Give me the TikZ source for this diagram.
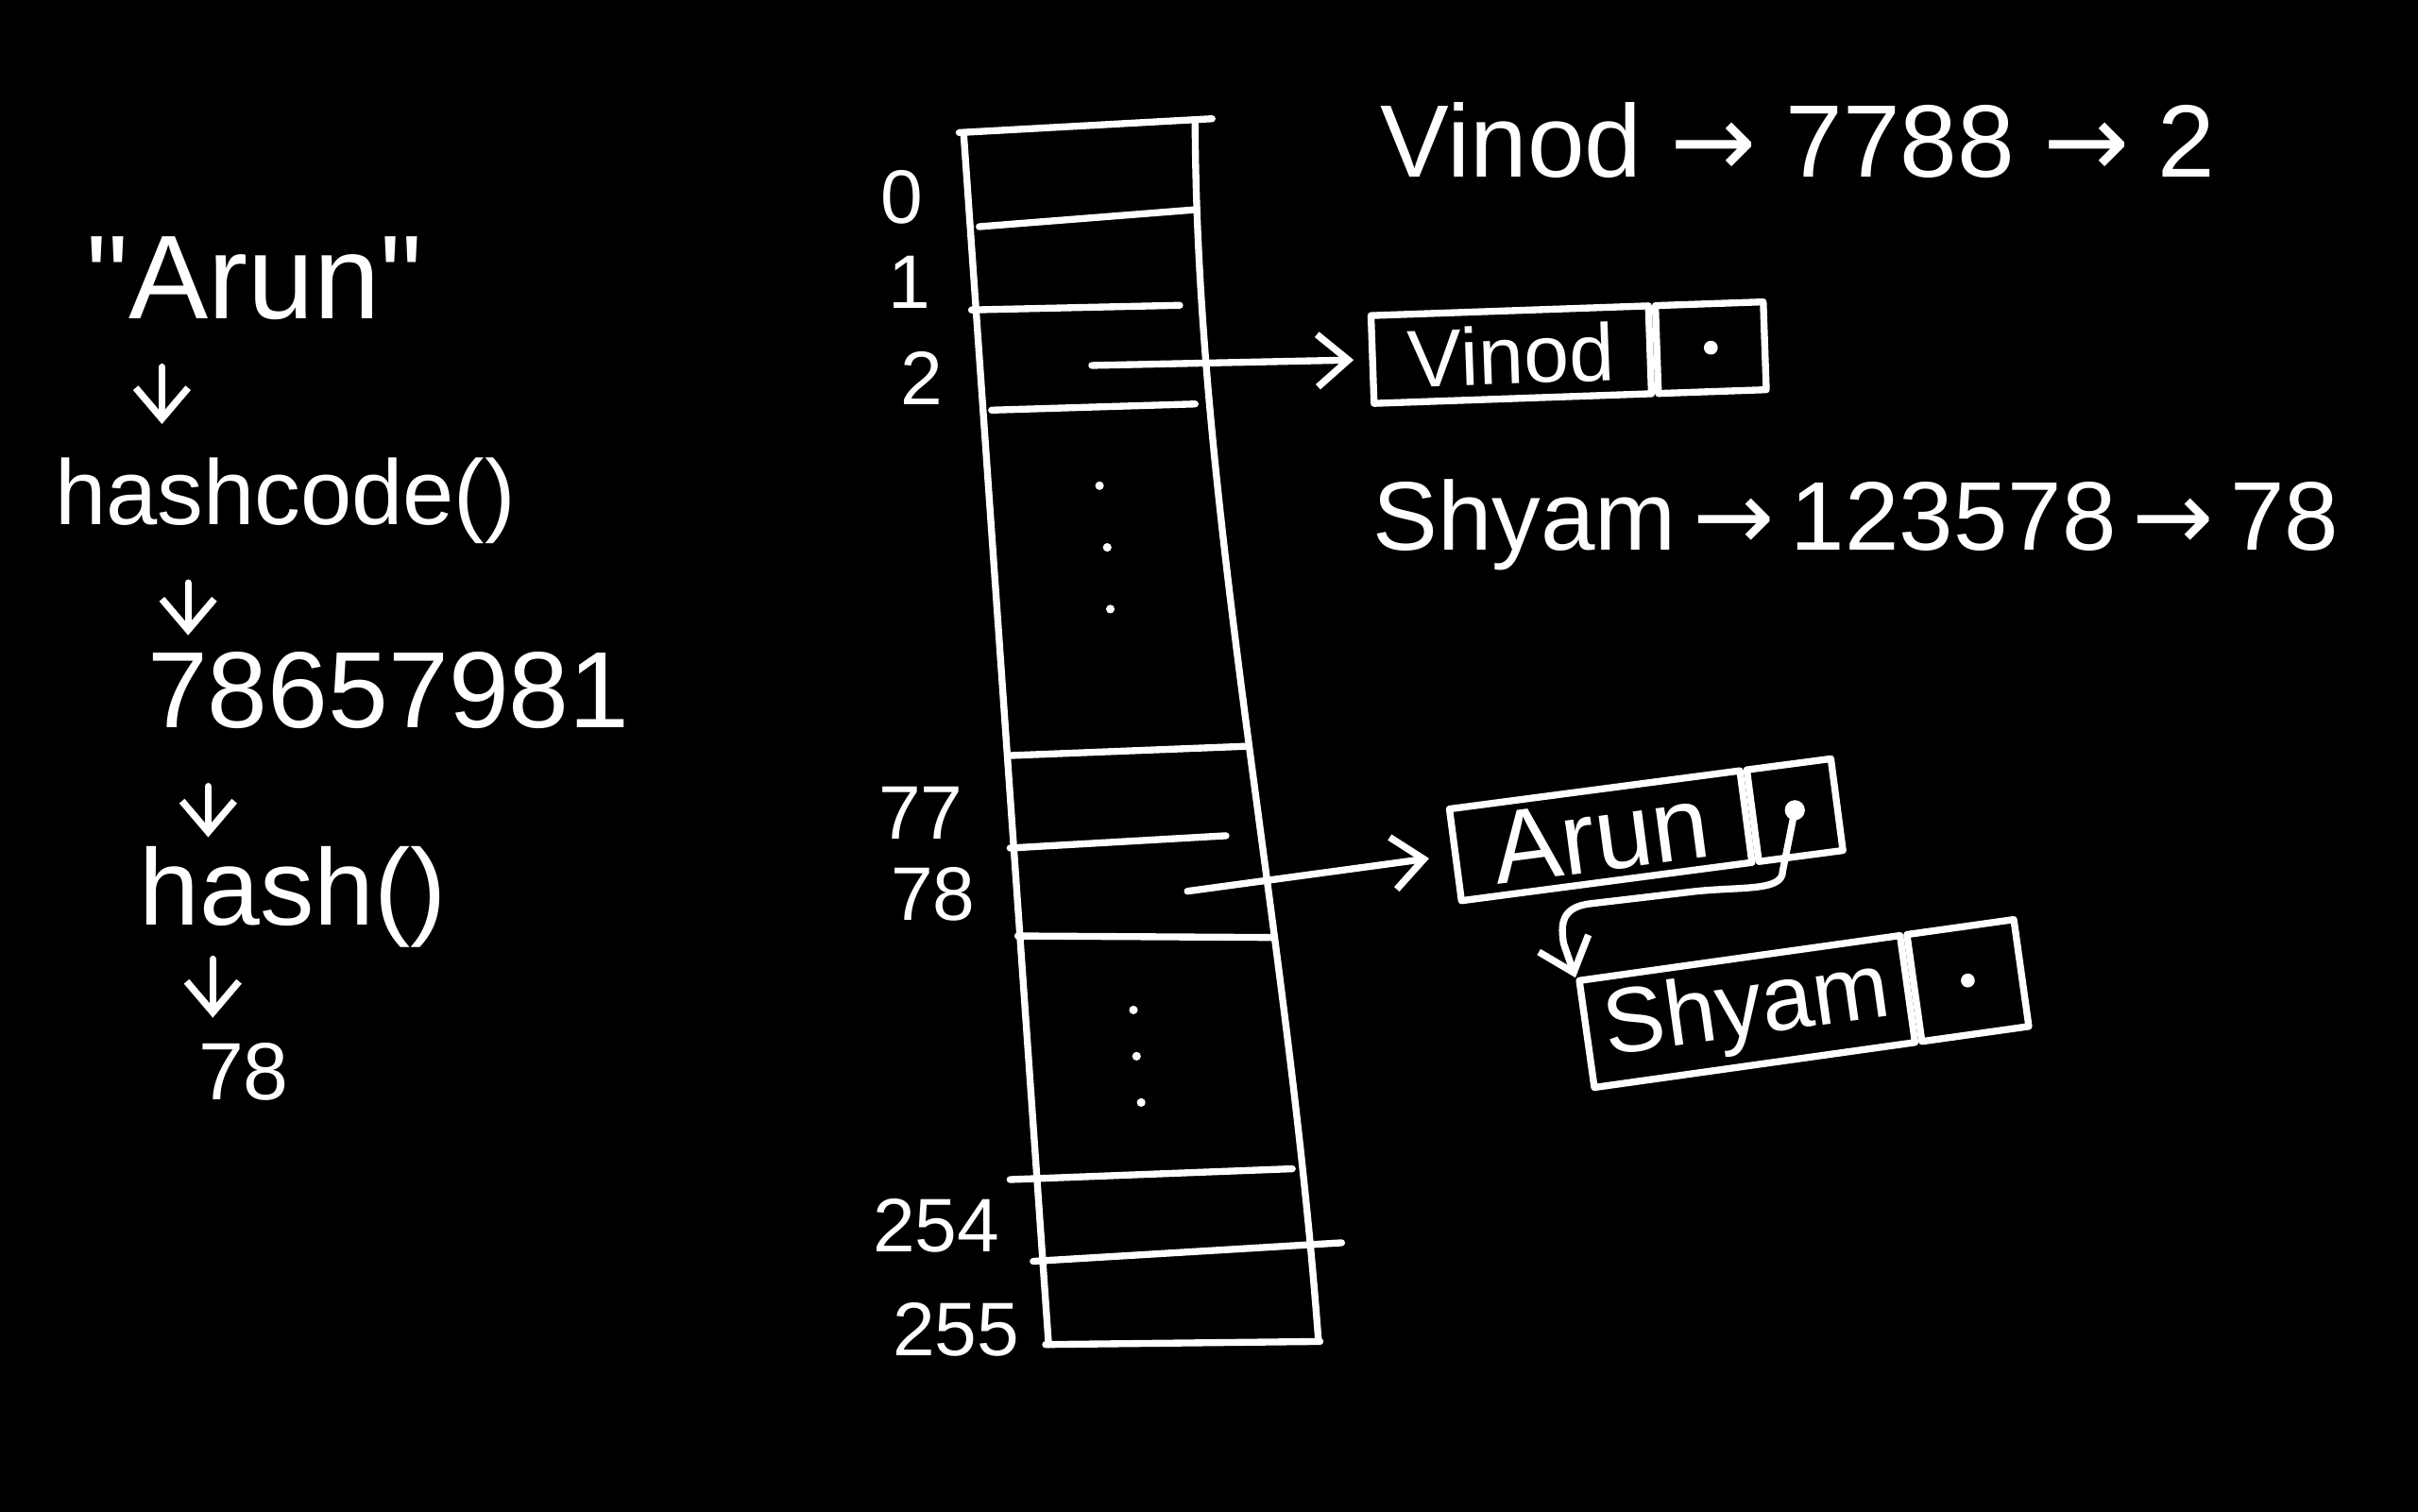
\documentclass[tikz,border=0pt]{standalone}
\usepackage{fontspec}
\setmainfont{Liberation Sans}
\newfontfamily\symfont{DejaVu Sans}
\usetikzlibrary{arrows.meta,calc}
\newcommand{\myarrow}{{\symfont →}}
\newcommand{\fs}[1]{\fontsize{#1}{#1}\selectfont}
\begin{document}
\begin{tikzpicture}[x=0.1mm,y=-0.1mm, line width=0.45mm, line cap=round, line join=round,
  ink/.style={draw=white},
  arr/.style={draw=white, -{Straight Barb[length=2mm,width=3.4mm]}},
  lbl/.style={text=white, inner sep=0pt, anchor=base},
  idx/.style={text=white, inner sep=0pt, font=\fs{14}},
  namebox/.style={draw=white, text=white, inner sep=0pt},
  ptrbox/.style={draw=white, inner sep=0pt, anchor=west},
  dotp/.style={fill=white}]
\useasboundingbox (0,0) rectangle (1568,980);
\fill[black] (-20,-20) rectangle (1588,1000);

% ---- left column ----
\node[lbl, font=\fs{22}] (arun) at (165,207) {\textquotedbl Arun\textquotedbl};
\node[lbl, font=\fs{17}] (hc) at (185,340) {hashcode()};
\node[lbl, font=\fs{20}] (num) at (252,472) {78657981};
\node[lbl, font=\fs{20}] (hs) at (190,600) {hash()};
\node[lbl, font=\fs{15}] (res) at (158,713) {78};
\draw[arr] ($(arun.base -| 105,0)+(0,31)$) -- ($(hc.base -| 105,0)+(0,-65)$);
\draw[arr] ($(hc.base -| 122,0)+(0,38)$) -- ($(num.base -| 122,0)+(0,-60)$);
\draw[arr] ($(num.base -| 135,0)+(0,38)$) -- ($(hs.base -| 135,0)+(0,-57)$);
\draw[arr] ($(hs.base -| 138,0)+(0,22)$) -- ($(res.base -| 138,0)+(0,-53)$);

% ---- table column ----
\draw[ink] (622,86) -- (786,77);
\draw[ink] (625,88) -- (680,872);
\draw[ink] (775,80) .. controls (776,330) and (835,600) .. (855,870);
\draw[ink] (678,872) -- (856,870);
\draw[ink] (635,147) -- (775,136);
\draw[ink] (630,201) -- (765,198);
\draw[ink] (643,266) -- (775,262);
\draw[ink] (655,490) -- (808,484);
\draw[ink] (655,550) -- (795,542);
\draw[ink] (660,607) -- (825,608);
\draw[ink] (655,765) -- (838,758);
\draw[ink] (670,818) -- (870,806);
\foreach \p in {(713,315),(718,355),(720,395),(735,655),(737,685),(740,715)}
  \fill[white] \p circle[radius=0.28mm];
\node[idx] (i0) at (585,128) {0};
\node[idx] (i1) at (590,183) {1};
\node[idx] (i2) at (598,245) {2};
\node[idx] (i77) at (597,527) {77};
\node[idx] (i78) at (605,580) {78};
\node[idx] (i254) at (607,795) {254};
\node[idx] (i255) at (620,862) {255};
\coordinate (c2) at (708,237);
\coordinate (c78) at (770,578);

% ---- right texts ----
\node[lbl, anchor=base west, font=\fs{19}] (vline) at (893,115) {Vinod \myarrow{} 7788 \myarrow{} 2};
\node[lbl, anchor=base west, font=\fs{18}] (sline) at (888,357) {Shyam\,\myarrow\,123578\,\myarrow\,78};

% ---- list nodes ----
\node[namebox, minimum width=18mm, minimum height=5.7mm, rotate=2, font=\fs{15}] (vn) at (980,230) {Vinod};
\node[ptrbox, minimum width=7mm, minimum height=5.7mm, rotate=2] (vp) at (vn.east) {};
\fill[white] (vp.center) circle[radius=0.45mm];

\node[namebox, minimum width=19mm, minimum height=6mm, rotate=7.5, font=\fs{19}] (an) at (1038,542) {Arun};
\node[ptrbox, minimum width=5.5mm, minimum height=6mm, rotate=7.5] (ap) at (an.east) {};
\fill[white] (ap.center) circle[radius=0.65mm];

\node[namebox, minimum width=21mm, minimum height=7mm, rotate=8, font=\fs{17}] (sn) at (1133,656) {Shyam};
\node[ptrbox, minimum width=7mm, minimum height=7mm, rotate=8] (sp) at (sn.east) {};
\fill[white] (sp.center) circle[radius=0.45mm];

% ---- connectors ----
\draw[arr, shorten >=1mm] (c2) -- (vn.west);
\draw[arr, shorten >=1.5mm] (c78) -- (an.west);
\draw[arr] (ap.center) -- (1156,565) .. controls (1156,578) and (1130,575) .. (1100,578)
  -- (1032,586) .. controls (1012,588) and (1012,600) .. (1014,612) -- (sn.north west);
\end{tikzpicture}
\end{document}
